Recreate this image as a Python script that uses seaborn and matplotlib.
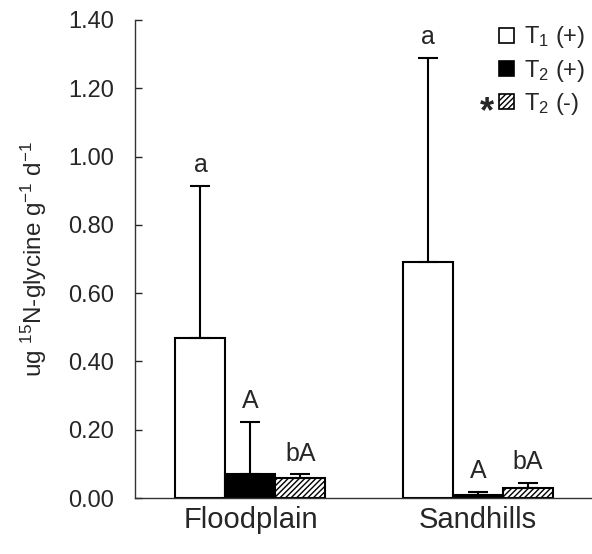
import numpy as np
import pandas as pd
import matplotlib
matplotlib.use("Agg")
import matplotlib.pyplot as plt
import seaborn as sns
from matplotlib.patches import Patch

# data
sites = ["Floodplain", "Sandhills"]
treatments = ["T1(+)", "T2(+)", "T2(-)"]
means_floodplain = [0.469, 0.070, 0.058]
means_sandhills = [0.691, 0.010, 0.030]
err_floodplain = [0.445, 0.153, 0.012]
err_sandhills = [0.598, 0.008, 0.014]
letters_floodplain = ["a", "A", "bA"]
letters_sandhills = ["a", "A", "bA"]
legend_labels = ["T$_1$ (+)", "T$_2$ (+)", "T$_2$ (-)"]
yticks = [0.0, 0.2, 0.4, 0.6, 0.8, 1.0, 1.2, 1.4]

df = pd.DataFrame({
    "site": np.repeat(sites, 3),
    "treatment": treatments * 2,
    "mean": means_floodplain + means_sandhills,
    "err": err_floodplain + err_sandhills,
    "letter": letters_floodplain + letters_sandhills,
})

sns.set_style("ticks")
plt.rcParams["font.family"] = ["Liberation Sans", "DejaVu Sans"]
plt.rcParams["mathtext.fontset"] = "custom"
plt.rcParams["mathtext.rm"] = "Liberation Sans"
plt.rcParams["mathtext.it"] = "Liberation Sans"
plt.rcParams["mathtext.default"] = "regular"
plt.rcParams["hatch.linewidth"] = 1.0

fig = plt.figure(figsize=(5.92, 5.54), dpi=100)
ax = fig.add_axes([0.228, 0.101, 0.770, 0.863])

pal = {"T1(+)": "white", "T2(+)": "black", "T2(-)": "white"}
sns.barplot(data=df, x="site", y="mean", hue="treatment", hue_order=treatments,
            order=sites, palette=pal, errorbar=None, width=0.66,
            edgecolor="black", linewidth=1.5, legend=False, ax=ax)

# bars come out grouped by hue level, then by site
bars = ax.patches
for i, p in enumerate(bars):
    tr = treatments[i // len(sites)]
    site = sites[i % len(sites)]
    if tr == "T2(-)":
        p.set_hatch("//////")
    row = df[(df.site == site) & (df.treatment == tr)].iloc[0]
    xc = p.get_x() + p.get_width() / 2
    ax.errorbar(xc, row["mean"], yerr=[[0], [row["err"]]], fmt="none",
                ecolor="black", elinewidth=1.5, capsize=7, capthick=1.5)
    ax.text(xc, row["mean"] + row["err"] + 0.025, row["letter"],
            ha="center", va="bottom", fontsize=18)

ax.set_ylim(0, 1.4)
ax.set_xlim(-0.508, 1.497)
ax.set_yticks(yticks)
ax.set_yticklabels([f"{v:.2f}" for v in yticks], fontsize=17)
ax.tick_params(axis="y", direction="in", length=5, width=1, pad=15)
ax.tick_params(axis="x", length=0, labelsize=21, pad=6)
ax.set_xlabel("")
ax.set_ylabel("ug $^{15}$N-glycine g$^{-1}$ d$^{-1}$", fontsize=17.5, labelpad=14)
sns.despine(ax=ax)
for s in ["left", "bottom"]:
    ax.spines[s].set_linewidth(1.0)
    ax.spines[s].set_color("#333333")

handles = [
    Patch(facecolor="white", edgecolor="black", linewidth=1.2),
    Patch(facecolor="black", edgecolor="black", linewidth=1.2),
    Patch(facecolor="white", edgecolor="black", linewidth=1.2, hatch="//////"),
]
leg = ax.legend(handles, legend_labels, loc="upper right", bbox_to_anchor=(1.035, 1.035),
                frameon=False, fontsize=17, handlelength=0.6, handleheight=0.6,
                handletextpad=0.45, labelspacing=0.3)
fig.text(0.823, 0.797, "*", fontsize=26, fontweight="bold", ha="center", va="center")

fig.savefig("out.png", dpi=100)
